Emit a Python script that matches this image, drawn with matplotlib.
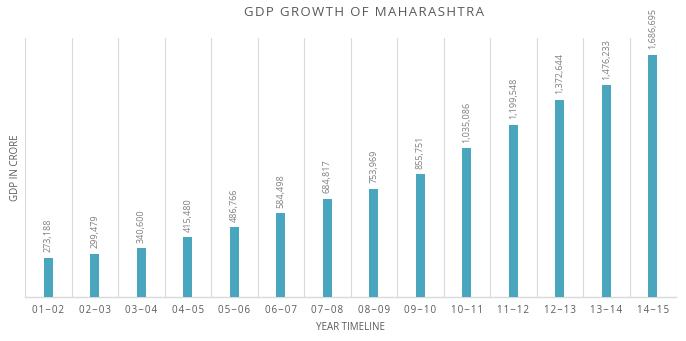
import matplotlib
matplotlib.use("Agg")
import matplotlib.pyplot as plt
import numpy as np

years = ["01-02", "02-03", "03-04", "04-05", "05-06", "06-07", "07-08",
         "08-09", "09-10", "10-11", "11-12", "12-13", "13-14", "14-15"]
gdp = [273188, 299479, 340600, 415480, 486766, 584498, 684817,
       753969, 855751, 1035086, 1199548, 1372644, 1476233, 1686695]
labels = [f"{v:,}" for v in gdp]

plt.rcParams['font.family'] = ['Open Sans', 'DejaVu Sans']

def spaced(s, sp='\u200a'):
    return sp.join(s)

fig = plt.figure(figsize=(6.86, 3.41), dpi=100)
ax = fig.add_axes([25/686, 44/341, 651/686, 259/341])

x = np.arange(len(years))
ax.bar(x, gdp, width=0.2, color='#4AA6BF', zorder=3)
ax.set_xlim(-0.5, len(years) - 0.5)
ax.set_ylim(0, 1805000)

for xi, v, lab in zip(x, gdp, labels):
    ax.annotate(lab, (xi, v), xytext=(0, 4), textcoords='offset points',
                rotation=90, ha='center', va='bottom', fontsize=6.5,
                color='#7F7F7F')

ax.set_xticks(x)
ax.set_xticklabels([spaced(y.replace('-', '\u2212')) for y in years],
                   fontsize=7, color='#595959')
ax.set_xticks(np.arange(-0.5, len(years), 1), minor=True)
ax.tick_params(axis='x', which='both', length=0, pad=6)
ax.grid(True, which='minor', axis='x', color='#D9D9D9', linewidth=0.8, zorder=0)
ax.set_yticks([])
for s in ['left', 'right', 'top']:
    ax.spines[s].set_visible(False)
ax.spines['bottom'].set_color('#D9D9D9')
ax.spines['bottom'].set_linewidth(1)

ax.set_xlabel('YEAR TIMELINE', fontsize=7, color='#595959', labelpad=4)
fig.text(16/686, 1 - 168/341, 'GDP IN CRORE', rotation=90, ha='center', va='center',
         fontsize=7, color='#595959')
fig.text(364/686, 1 - 12/341, spaced('GDP GROWTH OF MAHARASHTRA'), ha='center', va='center',
         fontsize=9.5, color='#595959')

fig.savefig('out.png', dpi=100)
